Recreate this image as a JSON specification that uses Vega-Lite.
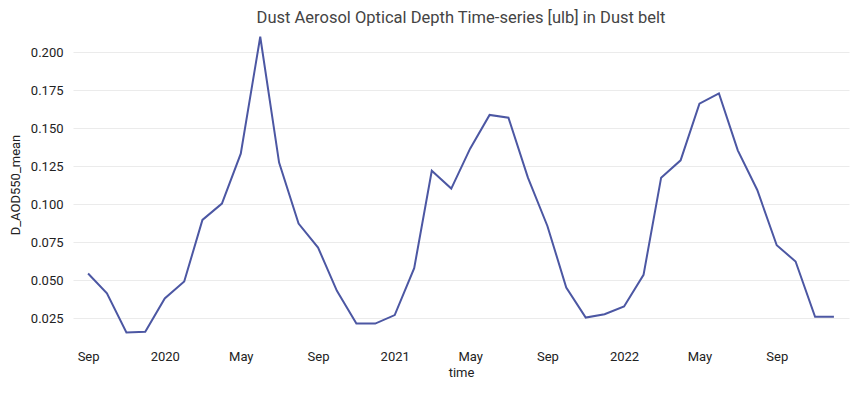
{
  "$schema": "https://vega.github.io/schema/vega-lite/v6.json",
  "autosize": {"type": "none"},
  "padding": {"left": 73, "top": 22, "right": 9, "bottom": 46},
  "width": 776,
  "height": 325,
  "background": "white",
  "title": {
    "text": "Dust Aerosol Optical Depth Time-series [ulb] in Dust belt",
    "font": "Roboto",
    "fontSize": 16.5,
    "fontWeight": "normal",
    "color": "#444444",
    "anchor": "middle",
    "offset": -4
  },
  "data": {
    "values": [
      {"time": "2019-09-01", "D_AOD550_mean": 0.0544},
      {"time": "2019-10-01", "D_AOD550_mean": 0.0414},
      {"time": "2019-11-01", "D_AOD550_mean": 0.0156},
      {"time": "2019-12-01", "D_AOD550_mean": 0.0160},
      {"time": "2020-01-01", "D_AOD550_mean": 0.0380},
      {"time": "2020-02-01", "D_AOD550_mean": 0.0491},
      {"time": "2020-03-01", "D_AOD550_mean": 0.0897},
      {"time": "2020-04-01", "D_AOD550_mean": 0.1004},
      {"time": "2020-05-01", "D_AOD550_mean": 0.1333},
      {"time": "2020-06-01", "D_AOD550_mean": 0.2103},
      {"time": "2020-07-01", "D_AOD550_mean": 0.1274},
      {"time": "2020-08-01", "D_AOD550_mean": 0.0873},
      {"time": "2020-09-01", "D_AOD550_mean": 0.0715},
      {"time": "2020-10-01", "D_AOD550_mean": 0.0430},
      {"time": "2020-11-01", "D_AOD550_mean": 0.0215},
      {"time": "2020-12-01", "D_AOD550_mean": 0.0214},
      {"time": "2021-01-01", "D_AOD550_mean": 0.0270},
      {"time": "2021-02-01", "D_AOD550_mean": 0.0579},
      {"time": "2021-03-01", "D_AOD550_mean": 0.1220},
      {"time": "2021-04-01", "D_AOD550_mean": 0.1103},
      {"time": "2021-05-01", "D_AOD550_mean": 0.1366},
      {"time": "2021-06-01", "D_AOD550_mean": 0.1588},
      {"time": "2021-07-01", "D_AOD550_mean": 0.1570},
      {"time": "2021-08-01", "D_AOD550_mean": 0.1175},
      {"time": "2021-09-01", "D_AOD550_mean": 0.0857},
      {"time": "2021-10-01", "D_AOD550_mean": 0.0452},
      {"time": "2021-11-01", "D_AOD550_mean": 0.0254},
      {"time": "2021-12-01", "D_AOD550_mean": 0.0276},
      {"time": "2022-01-01", "D_AOD550_mean": 0.0327},
      {"time": "2022-02-01", "D_AOD550_mean": 0.0535},
      {"time": "2022-03-01", "D_AOD550_mean": 0.1175},
      {"time": "2022-04-01", "D_AOD550_mean": 0.1289},
      {"time": "2022-05-01", "D_AOD550_mean": 0.1662},
      {"time": "2022-06-01", "D_AOD550_mean": 0.1730},
      {"time": "2022-07-01", "D_AOD550_mean": 0.1355},
      {"time": "2022-08-01", "D_AOD550_mean": 0.1094},
      {"time": "2022-09-01", "D_AOD550_mean": 0.0730},
      {"time": "2022-10-01", "D_AOD550_mean": 0.0623},
      {"time": "2022-11-01", "D_AOD550_mean": 0.0259},
      {"time": "2022-12-01", "D_AOD550_mean": 0.0259}
    ]
  },
  "config": {
    "view": {"stroke": null},
    "axis": {
      "labelFont": "Roboto",
      "titleFont": "Roboto",
      "labelFontSize": 13,
      "titleFontSize": 13,
      "titleFontWeight": "normal",
      "labelColor": "#222222",
      "titleColor": "#222222",
      "domain": false,
      "ticks": false,
      "gridColor": "#ebebeb",
      "gridWidth": 1
    }
  },
  "mark": {"type": "line", "color": "#4c57a3", "strokeWidth": 2, "clip": true},
  "encoding": {
    "x": {
      "field": "time",
      "type": "temporal",
      "title": "time",
      "scale": {
        "type": "utc",
        "domain": [
          {"year": 2019, "month": 8, "date": 8, "utc": true},
          {"year": 2022, "month": 12, "date": 25, "utc": true}
        ],
        "nice": false
      },
      "axis": {
        "grid": false,
        "values": [
          {"year": 2019, "month": 9, "date": 1, "utc": true},
          {"year": 2020, "month": 1, "date": 1, "utc": true},
          {"year": 2020, "month": 5, "date": 1, "utc": true},
          {"year": 2020, "month": 9, "date": 1, "utc": true},
          {"year": 2021, "month": 1, "date": 1, "utc": true},
          {"year": 2021, "month": 5, "date": 1, "utc": true},
          {"year": 2021, "month": 9, "date": 1, "utc": true},
          {"year": 2022, "month": 1, "date": 1, "utc": true},
          {"year": 2022, "month": 5, "date": 1, "utc": true},
          {"year": 2022, "month": 9, "date": 1, "utc": true}
        ],
        "labelExpr": "utcFormat(datum.value, '%m') == '01' ? utcFormat(datum.value, '%Y') : utcFormat(datum.value, '%b')",
        "labelPadding": 3,
        "titlePadding": 3
      }
    },
    "y": {
      "field": "D_AOD550_mean",
      "type": "quantitative",
      "title": "D_AOD550_mean",
      "scale": {"domain": [0.006, 0.22], "nice": false, "zero": false},
      "axis": {
        "values": [0.025, 0.05, 0.075, 0.1, 0.125, 0.15, 0.175, 0.2],
        "format": ".3f",
        "labelPadding": 10,
        "titlePadding": 8
      }
    }
  }
}
